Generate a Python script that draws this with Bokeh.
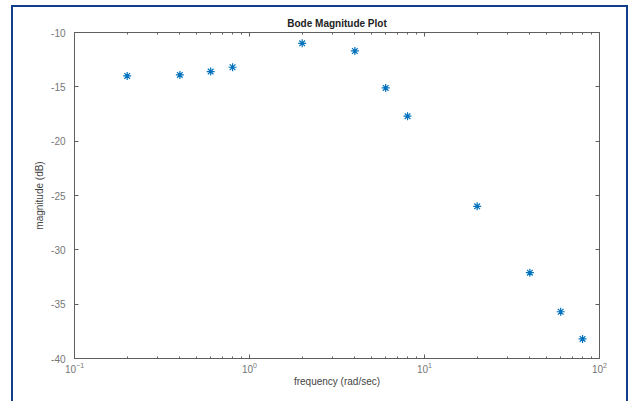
from bokeh.plotting import figure
from bokeh.models import Range1d, LogAxis, LinearAxis, FixedTicker, LogTicker
from bokeh.embed import file_html
from bokeh.resources import INLINE

freq = [0.2, 0.4, 0.6, 0.8, 2, 4, 6, 8, 20, 40, 60, 80]
mag_db = [-14.0, -13.9, -13.6, -13.2, -11.0, -11.7, -15.1, -17.7, -26.0, -32.1, -35.7, -38.2]
y_ticks = [-40, -35, -30, -25, -20, -15, -10]

FONT = "Liberation Sans"
AX = "#5f5f5f"
LBL = "#767676"

p = figure(width=617, height=396, x_axis_type="log",
           x_range=Range1d(0.1, 100), y_range=Range1d(-40, -10),
           output_backend="svg", toolbar_location=None,
           title="Bode Magnitude Plot",
           min_border_left=61, min_border_right=31, min_border_top=25, min_border_bottom=45)
p.styles = {"border-top": "2px solid #123d8c", "border-left": "2px solid #123d8c",
            "border-right": "2px solid #123d8c", "box-sizing": "border-box",
            "margin-top": "5px", "margin-left": "11px"}

p.title.align = "center"
p.title.text_font = FONT
p.title.text_font_size = "10px"
p.title.text_font_style = "bold"
p.title.text_color = "#222222"
p.title.standoff = 7

p.grid.visible = False
p.outline_line_color = None
p.background_fill_color = "white"
p.border_fill_color = "white"

# top and right axes (ticks only)
p.add_layout(LogAxis(), "above")
p.add_layout(LinearAxis(), "right")

for ax in p.axis:
    ax.axis_line_color = AX
    ax.axis_line_width = 1
    ax.major_tick_line_color = AX
    ax.minor_tick_line_color = AX
    ax.major_tick_in = 4
    ax.major_tick_out = 0
    ax.minor_tick_in = 2
    ax.minor_tick_out = 0
    ax.major_label_text_font = FONT
    ax.major_label_text_font_size = "10px"
    ax.major_label_text_color = LBL
    ax.major_label_standoff = 3
    ax.axis_label_text_font = FONT
    ax.axis_label_text_font_size = "10px"
    ax.axis_label_text_font_style = "normal"
    ax.axis_label_text_color = "#444444"

for ax in p.yaxis:
    ax.ticker = FixedTicker(ticks=y_ticks)
    ax.minor_tick_line_color = None

for ax in p.xaxis:
    ax.ticker = LogTicker(num_minor_ticks=10)

top = p.above[-1]
right = p.right[-1]
for ax in (top, right):
    ax.major_label_text_font_size = "1px"
    ax.major_label_text_color = None
    ax.major_label_standoff = 0

p.below[0].axis_label = "frequency (rad/sec)"
p.below[0].axis_label_standoff = 0
left = p.left[0]
left.axis_label = "magnitude (dB)"
left.major_label_overrides = {t: str(t) for t in y_ticks}
left.major_label_standoff = 9
left.axis_label_standoff = 3

p.scatter(freq, mag_db, marker="asterisk", size=8, line_width=1.2, color="#0072BD")

html = file_html(p, INLINE)
html = html.replace("<head>", "<head><style>html,body{margin:0;padding:0;overflow:hidden}</style>", 1)
open("out.html", "w").write(html)
